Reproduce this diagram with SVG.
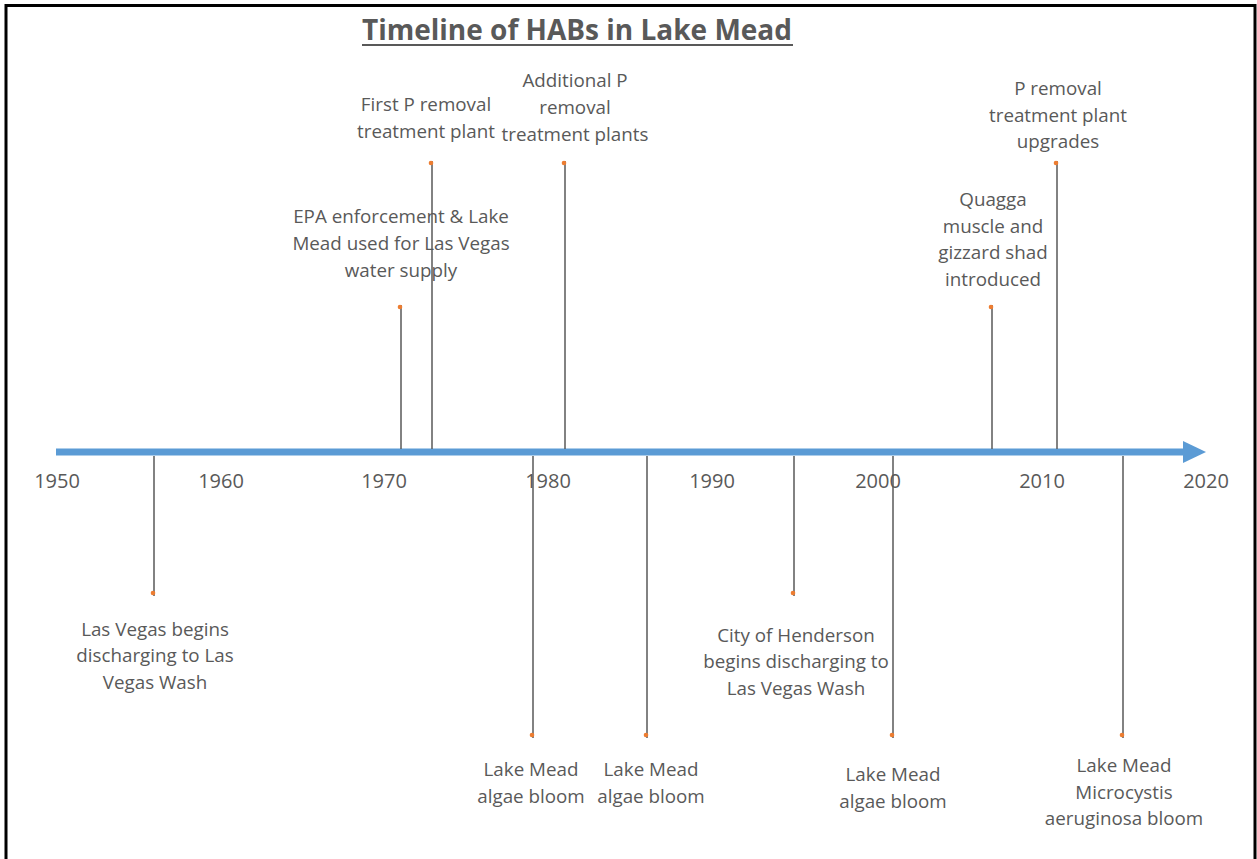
<svg xmlns="http://www.w3.org/2000/svg" width="1257" height="859" viewBox="0 0 1257 859">
<style>
.t{font-family:"Open Sans","Noto Sans",sans-serif;font-size:18.8px;fill:#595959;text-anchor:middle}
.y{font-family:"Open Sans","Noto Sans",sans-serif;font-size:20px;fill:#595959;text-anchor:middle}
.ttl{font-family:"Open Sans","Noto Sans",sans-serif;font-size:28px;font-weight:bold;fill:#595959;text-anchor:middle}
.st{stroke:#595959;stroke-width:1.5;fill:none}
.d{fill:#ED7D31}
</style>
<rect x="0" y="0" width="1257" height="859" fill="#fff"/>
<path d="M6 870 V5.5 H1255 V870" fill="none" stroke="#000" stroke-width="3"/>
<g id="title">
<text class="ttl" x="577" y="40">Timeline of HABs in Lake Mead</text>
<line x1="362" y1="45" x2="793" y2="45" stroke="#595959" stroke-width="2"/>
</g>
<g id="axis">
<rect x="56" y="448.5" width="1128" height="7" fill="#5B9BD5"/>
<path d="M1183 441 L1206 452 L1183 463 Z" fill="#5B9BD5"/>
<text class="y" x="57" y="488">1950</text>
<text class="y" x="221" y="488">1960</text>
<text class="y" x="384" y="488">1970</text>
<text class="y" x="548" y="488">1980</text>
<text class="y" x="712" y="488">1990</text>
<text class="y" x="878" y="488">2000</text>
<text class="y" x="1042" y="488">2010</text>
<text class="y" x="1206" y="488">2020</text>
</g>
<g id="connectors">
<line class="st" x1="154" y1="456" x2="154" y2="596"/>
<line class="st" x1="533" y1="456" x2="533" y2="738"/>
<line class="st" x1="647" y1="456" x2="647" y2="738"/>
<line class="st" x1="794" y1="456" x2="794" y2="596"/>
<line class="st" x1="893" y1="456" x2="893" y2="738"/>
<line class="st" x1="1123" y1="456" x2="1123" y2="738"/>
<line class="st" x1="401" y1="305" x2="401" y2="449"/>
<line class="st" x1="432" y1="161" x2="432" y2="449"/>
<line class="st" x1="565" y1="161" x2="565" y2="449"/>
<line class="st" x1="992" y1="305" x2="992" y2="449"/>
<line class="st" x1="1057" y1="161" x2="1057" y2="449"/>
</g>
<g id="dots">
<circle class="d" cx="153" cy="593" r="2.3"/>
<circle class="d" cx="532" cy="735" r="2.3"/>
<circle class="d" cx="646" cy="735" r="2.3"/>
<circle class="d" cx="793" cy="593" r="2.3"/>
<circle class="d" cx="892" cy="735" r="2.3"/>
<circle class="d" cx="1122" cy="735" r="2.3"/>
<circle class="d" cx="400" cy="307" r="2.3"/>
<circle class="d" cx="431" cy="163" r="2.3"/>
<circle class="d" cx="564" cy="163" r="2.3"/>
<circle class="d" cx="991" cy="307" r="2.3"/>
<circle class="d" cx="1056" cy="163" r="2.3"/>
</g>
<g id="n1956"><text class="t" x="155" y="636">Las Vegas begins</text><text class="t" x="155" y="662">discharging to Las</text><text class="t" x="155" y="689">Vegas Wash</text></g>
<g id="n1971"><text class="t" x="401" y="223">EPA enforcement &amp; Lake</text><text class="t" x="401" y="250">Mead used for Las Vegas</text><text class="t" x="401" y="277">water supply</text></g>
<g id="n1973"><text class="t" x="426" y="111">First P removal</text><text class="t" x="426" y="138">treatment plant</text></g>
<g id="n1979"><text class="t" x="531" y="776">Lake Mead</text><text class="t" x="531" y="803">algae bloom</text></g>
<g id="n1981"><text class="t" x="575" y="87">Additional P</text><text class="t" x="575" y="114">removal</text><text class="t" x="575" y="141">treatment plants</text></g>
<g id="n1986"><text class="t" x="651" y="776">Lake Mead</text><text class="t" x="651" y="803">algae bloom</text></g>
<g id="n1995"><text class="t" x="796" y="642">City of Henderson</text><text class="t" x="796" y="668">begins discharging to</text><text class="t" x="796" y="695">Las Vegas Wash</text></g>
<g id="n2001"><text class="t" x="893" y="781">Lake Mead</text><text class="t" x="893" y="808">algae bloom</text></g>
<g id="n2007"><text class="t" x="993" y="206">Quagga</text><text class="t" x="993" y="233">muscle and</text><text class="t" x="993" y="259">gizzard shad</text><text class="t" x="993" y="286">introduced</text></g>
<g id="n2011"><text class="t" x="1058" y="95">P removal</text><text class="t" x="1058" y="122">treatment plant</text><text class="t" x="1058" y="148">upgrades</text></g>
<g id="n2015"><text class="t" x="1124" y="772">Lake Mead</text><text class="t" x="1124" y="799">Microcystis</text><text class="t" x="1124" y="825">aeruginosa bloom</text></g>
</svg>
